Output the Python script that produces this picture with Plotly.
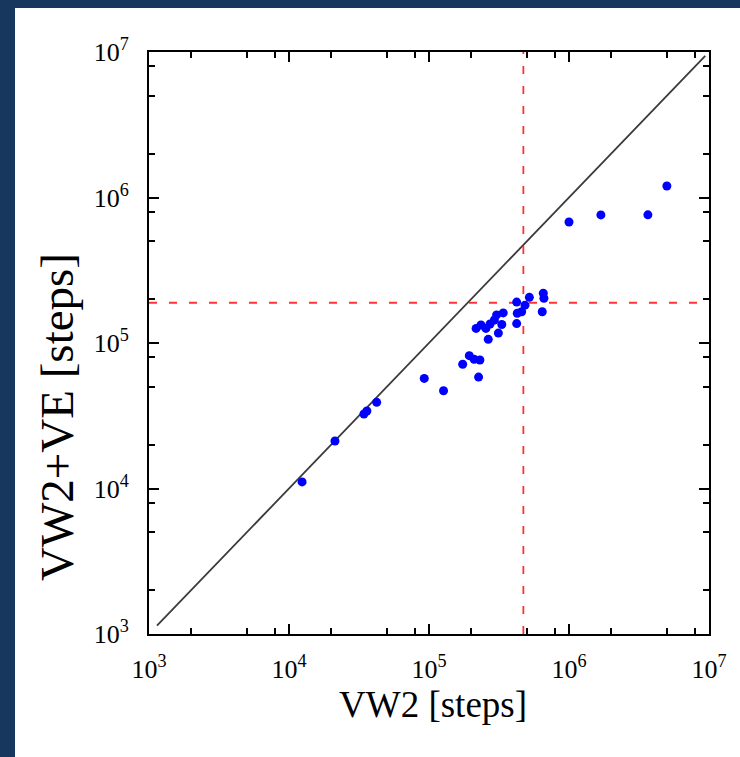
import plotly.graph_objects as go

# Data (VW2 steps, VW2+VE steps)
vw2 = [1.24e4, 2.13e4, 3.43e4, 3.6e4, 4.23e4, 9.25e4, 1.27e5, 1.74e5, 1.94e5, 2.10e5,
       2.31e5, 2.26e5, 2.17e5, 2.35e5, 2.55e5, 2.65e5, 2.73e5, 2.93e5, 3.04e5, 3.13e5,
       3.31e5, 3.39e5, 4.23e5, 4.27e5, 4.23e5, 4.59e5, 4.85e5, 5.21e5, 6.55e5, 6.62e5,
       6.44e5, 1.0e6, 1.69e6, 3.66e6, 5.0e6]
vw2ve = [1.11e4, 2.12e4, 3.25e4, 3.41e4, 3.91e4, 5.71e4, 4.70e4, 7.14e4, 8.18e4, 7.73e4,
         7.64e4, 5.83e4, 1.26e5, 1.33e5, 1.26e5, 1.06e5, 1.35e5, 1.44e5, 1.56e5, 1.17e5,
         1.34e5, 1.61e5, 1.36e5, 1.60e5, 1.91e5, 1.64e5, 1.82e5, 2.06e5, 2.20e5, 2.03e5,
         1.64e5, 6.79e5, 7.59e5, 7.6e5, 1.2e6]

diag_x = [1.14e3, 9.4e6]
vline_x = 4.72e5
hline_y = 1.89e5
axis_range = [1e3, 1e7]

major_vals = [1e3, 1e4, 1e5, 1e6, 1e7]
major_text = ["10<sup>3</sup>", "10<sup>4</sup>", "10<sup>5</sup>", "10<sup>6</sup>", "10<sup>7</sup>"]
minor_vals = [m * d for d in [1e3, 1e4, 1e5, 1e6] for m in (2, 5, 8)]

x_title = "VW2 [steps]"
y_title = "VW2+VE [steps]"

serif = "Liberation Serif, Times New Roman, serif"
navy = "#18375e"

fig = go.Figure()
fig.add_trace(go.Scatter(x=diag_x, y=diag_x, mode="lines",
                         line=dict(color="#3a3a3a", width=1.8), showlegend=False,
                         hoverinfo="skip"))
fig.add_trace(go.Scatter(x=[vline_x, vline_x], y=axis_range, mode="lines",
                         line=dict(color="#ff3333", width=1.8, dash="8px,12px"),
                         showlegend=False))
fig.add_trace(go.Scatter(x=axis_range, y=[hline_y, hline_y], mode="lines",
                         line=dict(color="#ff3333", width=1.8, dash="8px,12px"),
                         showlegend=False))
fig.add_trace(go.Scatter(x=vw2, y=vw2ve, mode="markers",
                         marker=dict(color="#0000ff", size=9, line=dict(width=0)),
                         showlegend=False))

axis_common = dict(
    type="log", range=[3, 7], showgrid=False, zeroline=False,
    showline=True, linecolor="black", linewidth=2, mirror="allticks",
    ticks="inside", ticklen=10, tickwidth=1.5, tickcolor="black",
    tickmode="array", tickvals=major_vals, ticktext=major_text,
    tickfont=dict(family=serif, size=26, color="black"),
    minor=dict(tickvals=minor_vals, ticks="inside", ticklen=6, tickwidth=1.5,
               tickcolor="black", showgrid=False),
)

fig.update_layout(
    width=740, height=757,
    margin=dict(l=149, r=31, t=52, b=123),
    paper_bgcolor=navy, plot_bgcolor="white",
    xaxis=dict(**axis_common, ticklabelstandoff=11),
    yaxis=dict(**axis_common, ticklabelstandoff=13),
    shapes=[dict(type="rect", xref="paper", yref="paper",
                 x0=(15 - 149) / 560, x1=(740 - 149) / 560,
                 y0=-(757 - 634) / 582, y1=(634 - 8) / 582,
                 fillcolor="white", line=dict(width=0), layer="below")],
    annotations=[
        dict(text=x_title, xref="paper", yref="paper", x=(433 - 149) / 560,
             y=(634 - 704) / 582, xanchor="center", yanchor="middle", showarrow=False,
             font=dict(family=serif, size=37, color="black")),
        dict(text=y_title, xref="paper", yref="paper", x=(57 - 149) / 560,
             y=(634 - 417) / 582, xanchor="center", yanchor="middle", showarrow=False,
             textangle=-90, font=dict(family=serif, size=47, color="black")),
    ],
)

fig.write_html("out.html", config={"displayModeBar": False},
               post_script="document.body.style.margin='0';")
